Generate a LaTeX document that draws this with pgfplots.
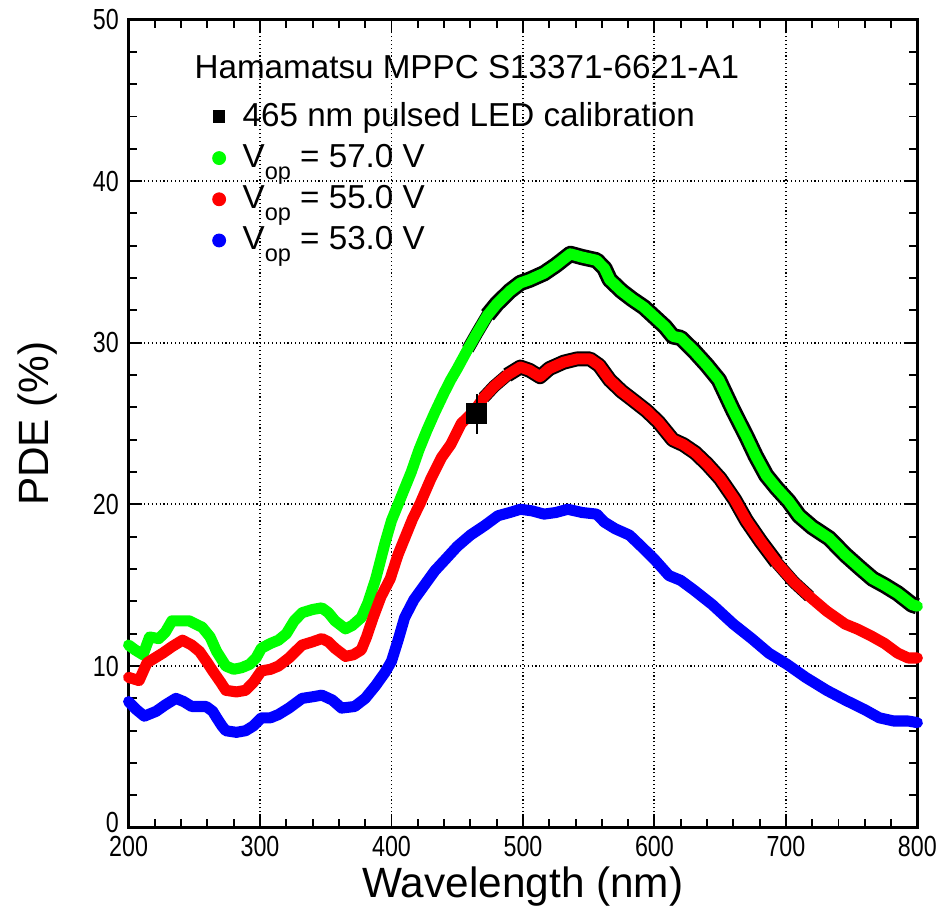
\documentclass[border=0pt]{standalone}
\usepackage{fontspec}
\setmainfont{Liberation Sans}
\newfontfamily\narrowfont{Liberation Sans}[FakeStretch=0.8]
\usepackage{pgfplots}
\pgfplotsset{compat=1.18}
\usepackage{pgfplotstable}

\pgfplotstableread{
x y
200 11.3
205 11.0
211 10.7
216 11.8
223 11.7
228 12.1
233 12.8
246 12.8
256 12.4
262 11.8
267 10.9
274 10.0
280 9.8
286 9.9
292 10.1
297 10.5
301 11.1
308 11.4
314 11.6
320 12.0
326 12.8
332 13.3
340 13.5
347 13.6
352 13.3
357 12.8
365 12.3
370 12.5
377 13.0
382 13.9
388 15.4
395 17.6
400 19.0
405 20.0
410 21.0
415 22.0
421 23.4
427 24.6
433 25.7
440 26.9
445 27.7
450 28.4
458 29.6
465 30.6
473 31.7
480 32.4
490 33.2
498 33.7
505 33.9
516 34.3
525 34.8
536 35.5
545 35.3
556 35.1
562 34.6
566 33.9
575 33.2
583 32.7
592 32.2
600 31.6
608 31.0
614 30.4
620 30.3
630 29.5
640 28.6
649 27.7
660 25.8
670 24.2
677 23.0
685 21.8
693 21.0
702 20.2
710 19.3
720 18.6
733 17.9
745 16.9
756 16.1
766 15.4
775 15.0
785 14.5
796 13.8
800 13.7
}\greendata

\pgfplotstableread{
x y
200 9.3
208 9.1
214 10.2
220 10.5
226 10.8
233 11.2
241 11.6
248 11.3
254 10.9
260 10.2
264 9.7
270 9.0
274 8.5
282 8.4
289 8.5
295 9.0
301 9.7
308 9.8
314 10.0
322 10.5
332 11.3
340 11.5
347 11.7
352 11.5
357 11.1
365 10.6
371 10.7
377 11.0
381 11.8
386 13.0
392 14.3
399 15.4
405 16.9
410 17.9
416 19.1
422 20.1
430 21.6
438 22.9
445 23.7
453 25.0
463 25.8
470 26.6
478 27.3
488 28.0
498 28.5
505 28.3
513 27.9
520 28.4
531 28.8
541 29.0
551 29.0
558 28.6
566 27.7
575 27.0
583 26.5
594 25.8
603 25.1
614 24.0
622 23.7
631 23.2
640 22.5
650 21.6
661 20.3
670 19.0
681 17.7
693 16.4
706 15.2
718 14.3
731 13.4
745 12.6
754 12.3
764 11.9
775 11.4
785 10.8
793 10.5
800 10.5
}\reddata

\pgfplotstableread{
x y
200 7.8
206 7.3
212 6.9
221 7.2
228 7.6
236 8.0
242 7.8
248 7.5
259 7.5
264 7.2
267 6.8
271 6.3
274 6.0
282 5.9
289 6.0
295 6.3
301 6.8
308 6.8
314 7.0
322 7.4
332 8.0
340 8.1
347 8.2
355 7.9
362 7.4
372 7.5
380 8.0
388 8.8
395 9.6
400 10.3
405 11.6
410 13.0
417 14.1
425 15.0
433 15.9
441 16.6
450 17.4
460 18.1
471 18.7
481 19.3
490 19.5
498 19.7
507 19.6
516 19.4
525 19.5
534 19.7
545 19.5
556 19.4
562 18.9
570 18.5
581 18.1
590 17.4
600 16.6
611 15.6
620 15.3
630 14.7
644 13.8
660 12.6
674 11.7
687 10.8
701 10.1
715 9.3
731 8.5
745 7.9
760 7.3
771 6.8
782 6.6
793 6.6
800 6.5
}\bluedata

\begin{document}
\begin{tikzpicture}
\begin{axis}[
  scale only axis,
  width=285pt, height=292pt,
  xmin=200, xmax=800, ymin=0, ymax=50,
  xtick={200,300,...,800},
  ytick={0,10,...,50},
  yticklabels={\raisebox{4pt}{0},10,20,30,40,50},
  minor x tick num=4,
  minor y tick num=4,
  tick align=inside,
  axis line style={line width=1pt},
  major tick length=5pt,
  minor tick length=3pt,
  every tick/.style={black, line width=0.7pt},
  grid=major,
  major grid style={black, densely dotted, line width=0.7pt},
  tick label style={font=\narrowfont\fontsize{10.5}{12}\selectfont},
  /pgf/number format/assume math mode=true,
  xticklabel style={yshift=0.5pt},
  xlabel={Wavelength (nm)},
  ylabel={PDE (\%)},
  label style={font=\fontsize{15.3}{18}\selectfont},
  xlabel style={at={(axis description cs:0.5,-0.073)}, anchor=center},
  ylabel style={at={(axis description cs:-0.115,0.5)}, anchor=center, rotate=0},
  legend style={draw=none, fill=none, at={(rel axis cs:0.105,0.905)}, anchor=north west,
    font=\fontsize{12}{14}\selectfont, row sep=1pt, inner sep=0pt},
  legend image code/.code={\path (-2.4pt,0pt) (6.3pt,0pt); \draw[#1] plot coordinates {(0pt,0pt)};},
  legend cell align=left,
  clip=false,
]
% black error band underlays
\addplot[forget plot, black, line width=4.6pt, line join=round, restrict x to domain=455:482] table[x=x,y=y] {\greendata};
\addplot[forget plot, black, line width=5.9pt, line join=round, restrict x to domain=472:800] table[x=x,y=y] {\greendata};
\addplot[forget plot, black, line width=4.6pt, line join=round, restrict x to domain=470:490] table[x=x,y=y] {\reddata};
\addplot[forget plot, black, line width=5.4pt, line join=round, restrict x to domain=486:694] table[x=x,y=y] {\reddata};
\addplot[forget plot, black, line width=4.6pt, line join=round, restrict x to domain=690:720] table[x=x,y=y] {\reddata};
% curves
\addplot[forget plot, color={rgb,255:red,0;green,255;blue,0}, line width=4pt, line join=round, line cap=round] table[x=x,y=y] {\greendata};
\addplot[forget plot, color={rgb,255:red,255;green,0;blue,0}, line width=4pt, line join=round, line cap=round] table[x=x,y=y] {\reddata};
\addplot[forget plot, color={rgb,255:red,0;green,0;blue,255}, line width=4pt, line join=round, line cap=round] table[x=x,y=y] {\bluedata};
% LED calibration point
\addplot[forget plot, only marks, mark=square*, black, mark size=3.6pt,
  error bars/.cd, y dir=both, y explicit, error mark=none,
  error bar style={line width=0.9pt}] coordinates {(465,25.6) +- (0,1.25)};
% legend
\addlegendimage{only marks, mark=square*, black, mark size=2pt}
\addlegendentry{465 nm pulsed LED calibration}
\addlegendimage{only marks, mark=*, color={rgb,255:red,0;green,255;blue,0}, mark size=2.3pt}
\addlegendentry{V\raisebox{-4.2pt}{\fontsize{8.5}{9}\selectfont op} = 57.0 V}
\addlegendimage{only marks, mark=*, color={rgb,255:red,255;green,0;blue,0}, mark size=2.3pt}
\addlegendentry{V\raisebox{-4.2pt}{\fontsize{8.5}{9}\selectfont op} = 55.0 V}
\addlegendimage{only marks, mark=*, color={rgb,255:red,0;green,0;blue,255}, mark size=2.3pt}
\addlegendentry{V\raisebox{-4.2pt}{\fontsize{8.5}{9}\selectfont op} = 53.0 V}
\node[anchor=north west, inner sep=0pt, font=\fontsize{12}{14}\selectfont] at (rel axis cs:0.083,0.956) {Hamamatsu MPPC S13371-6621-A1};
\node[inner sep=0pt, minimum size=0pt] at (rel axis cs:-0.163,0.5) {};
\end{axis}
\end{tikzpicture}
\end{document}
